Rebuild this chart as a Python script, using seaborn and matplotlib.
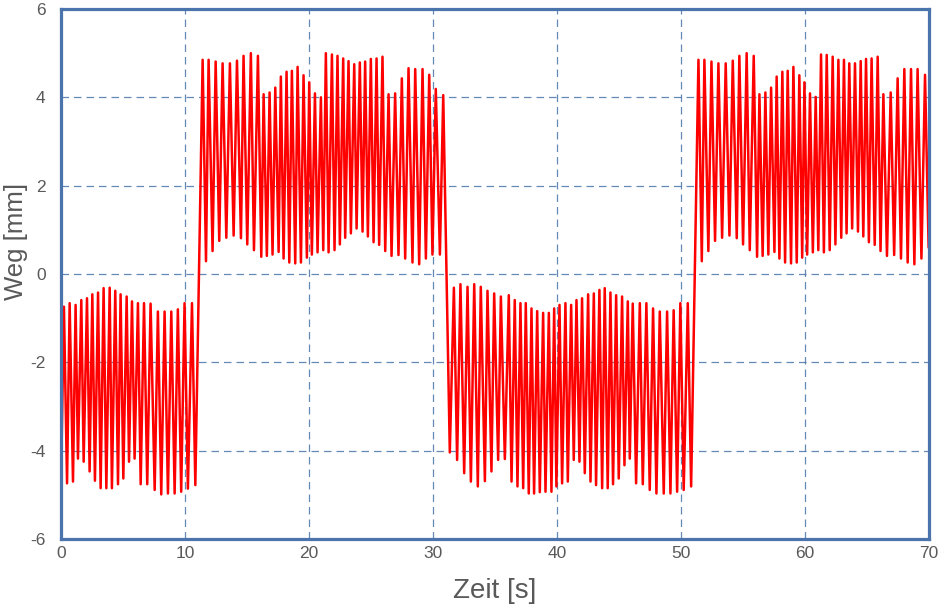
import numpy as np
import pandas as pd
import matplotlib
matplotlib.use("Agg")
import matplotlib.pyplot as plt
from matplotlib.ticker import MultipleLocator
import seaborn as sns

# Abschnitt 1: unten (0 .. 11 s)
zeit_1 = [0.00, 0.24, 0.49, 0.70, 0.97, 1.18, 1.37, 1.64, 1.83, 2.10, 2.31, 2.53,
          2.74, 2.99, 3.20, 3.44, 3.66, 3.93, 4.11, 4.38, 4.60, 4.81, 5.03, 5.30,
          5.49, 5.73, 5.94, 6.21, 6.43, 6.70, 6.96, 7.23, 7.56, 7.82, 8.09, 8.36,
          8.63, 8.90, 9.17, 9.43, 9.70, 9.97, 10.24, 10.57, 10.84]
weg_1 = [-4.78, -0.74, -4.74, -0.66, -4.70, -0.70, -4.18, -0.59, -4.25, -0.55, -4.47, -0.46,
         -4.68, -0.42, -4.85, -0.32, -4.85, -0.31, -4.85, -0.38, -4.76, -0.46, -4.63, -0.51,
         -4.25, -0.62, -4.18, -0.66, -4.76, -0.66, -4.76, -0.67, -4.89, -0.85, -4.99, -0.85,
         -4.97, -0.85, -4.97, -0.80, -4.93, -0.66, -4.86, -0.66, -4.78]

# Abschnitt 2: oben (11 .. 31 s)
zeit_2 = [11.43, 11.70, 11.91, 12.23, 12.48, 12.77, 13.04, 13.34, 13.63, 13.93, 14.20, 14.52,
          14.73, 15.03, 15.32, 15.57, 15.89, 16.16, 16.35, 16.61, 16.83, 17.07, 17.29, 17.56,
          17.74, 17.96, 18.20, 18.42, 18.63, 18.90, 19.09, 19.36, 19.57, 19.84, 20.03, 20.24,
          20.49, 20.70, 20.97, 21.16, 21.37, 21.59, 21.86, 22.07, 22.31, 22.50, 22.77, 22.93,
          23.20, 23.39, 23.66, 23.85, 24.11, 24.33, 24.54, 24.76, 25.00, 25.22, 25.46, 25.67,
          25.94, 26.16, 26.43, 26.67, 26.96, 27.23, 27.50, 27.77, 28.04, 28.36, 28.58, 28.90,
          29.17, 29.44, 29.71, 29.97, 30.24, 30.57, 30.84]
weg_2 = [4.85, 0.29, 4.85, 0.52, 4.81, 0.75, 4.77, 0.82, 4.77, 0.87, 4.83, 0.81,
         4.94, 0.67, 5.00, 0.54, 4.94, 0.39, 4.07, 0.41, 4.11, 0.44, 4.22, 0.50,
         4.47, 0.35, 4.58, 0.26, 4.60, 0.24, 4.69, 0.26, 4.50, 0.37, 4.34, 0.44,
         4.09, 0.49, 4.00, 0.54, 5.00, 0.49, 4.97, 0.54, 4.94, 0.67, 4.88, 0.82,
         4.82, 0.92, 4.75, 1.03, 4.79, 0.96, 4.81, 0.85, 4.87, 0.72, 4.88, 0.66,
         4.92, 0.52, 4.07, 0.41, 4.09, 0.43, 4.43, 0.35, 4.66, 0.26, 4.64, 0.22,
         4.64, 0.35, 4.51, 0.44, 4.19, 0.44, 4.05]

# Abschnitt 3: unten (31 .. 51 s)
zeit_3 = [31.37, 31.70, 31.96, 32.23, 32.53, 32.80, 33.07, 33.34, 33.63, 33.87, 34.20, 34.41,
          34.73, 34.95, 35.27, 35.49, 35.81, 36.13, 36.35, 36.61, 36.83, 37.07, 37.29, 37.50,
          37.74, 37.96, 38.17, 38.42, 38.63, 38.90, 39.09, 39.36, 39.57, 39.79, 39.97, 40.22,
          40.43, 40.70, 40.89, 41.16, 41.37, 41.59, 41.83, 42.04, 42.26, 42.53, 42.72, 42.99,
          43.17, 43.44, 43.66, 43.87, 44.11, 44.33, 44.54, 44.79, 45.00, 45.27, 45.46, 45.73,
          45.89, 46.13, 46.40, 46.70, 46.94, 47.23, 47.50, 47.77, 48.04, 48.31, 48.63, 48.90,
          49.17, 49.43, 49.71, 49.97, 50.24, 50.57, 50.84]
weg_3 = [-4.04, -0.31, -4.21, -0.23, -4.51, -0.29, -4.70, -0.23, -4.81, -0.29, -4.69, -0.38,
         -4.47, -0.44, -4.21, -0.51, -4.19, -0.48, -4.70, -0.59, -4.81, -0.66, -4.85, -0.66,
         -4.97, -0.78, -4.97, -0.84, -4.94, -0.88, -4.93, -0.88, -4.93, -0.78, -4.81, -0.70,
         -4.74, -0.66, -4.70, -0.70, -4.21, -0.59, -4.25, -0.55, -4.51, -0.46, -4.70, -0.44,
         -4.78, -0.36, -4.85, -0.32, -4.85, -0.42, -4.76, -0.48, -4.63, -0.51, -4.33, -0.62,
         -4.18, -0.67, -4.74, -0.66, -4.76, -0.66, -4.89, -0.78, -4.97, -0.85, -4.97, -0.85,
         -4.97, -0.82, -4.93, -0.66, -4.89, -0.66, -4.81]

# Abschnitt 4: oben (51 .. 70 s)
zeit_4 = [51.43, 51.70, 51.91, 52.23, 52.48, 52.77, 53.04, 53.34, 53.63, 53.93, 54.20, 54.52,
          54.73, 55.03, 55.32, 55.57, 55.89, 56.16, 56.35, 56.61, 56.83, 57.07, 57.29, 57.56,
          57.74, 57.96, 58.20, 58.42, 58.63, 58.90, 59.09, 59.36, 59.57, 59.80, 59.98, 60.20,
          60.43, 60.66, 60.89, 61.10, 61.32, 61.55, 61.78, 62.02, 62.26, 62.48, 62.72, 62.95,
          63.17, 63.38, 63.60, 63.83, 64.06, 64.30, 64.52, 64.73, 64.95, 65.18, 65.40, 65.65,
          65.89, 66.12, 66.35, 66.64, 66.94, 67.22, 67.50, 67.77, 68.04, 68.31, 68.58, 68.85,
          69.11, 69.42, 69.71, 70.00]
weg_4 = [4.85, 0.29, 4.85, 0.52, 4.81, 0.75, 4.77, 0.82, 4.77, 0.87, 4.83, 0.81,
         4.94, 0.67, 5.00, 0.54, 4.94, 0.39, 4.07, 0.41, 4.11, 0.44, 4.22, 0.50,
         4.47, 0.35, 4.58, 0.26, 4.60, 0.24, 4.69, 0.26, 4.50, 0.37, 4.34, 0.44,
         4.09, 0.49, 4.01, 0.54, 4.97, 0.49, 4.96, 0.54, 4.92, 0.67, 4.85, 0.82,
         4.85, 0.92, 4.77, 1.03, 4.77, 0.96, 4.82, 0.85, 4.87, 0.72, 4.88, 0.66,
         4.92, 0.52, 4.07, 0.41, 4.11, 0.43, 4.43, 0.35, 4.64, 0.26, 4.64, 0.22,
         4.64, 0.35, 4.51, 0.60]

# --- Zusammenfügen ---
df = pd.DataFrame({
    "Zeit": zeit_1 + zeit_2 + zeit_3 + zeit_4,
    "Weg": weg_1 + weg_2 + weg_3 + weg_4,
})

blau = "#4a74ab"
grau = "#595959"

sns.set_style("white")
plt.rcParams["font.family"] = ["Liberation Sans", "DejaVu Sans"]
plt.rcParams["axes.unicode_minus"] = False

fig = plt.figure(figsize=(9.38, 6.08), dpi=100)
ax = fig.add_axes([0.065, 0.1135, 0.925, 0.8717])

sns.lineplot(data=df, x="Zeit", y="Weg", ax=ax, color="red", linewidth=1.8,
             estimator=None, sort=False, zorder=2)

ax.set_xlim(0, 70)
ax.set_ylim(-6, 6)
ax.xaxis.set_major_locator(MultipleLocator(10))
ax.xaxis.set_minor_locator(MultipleLocator(5))
ax.yaxis.set_major_locator(MultipleLocator(2))
ax.yaxis.set_minor_locator(MultipleLocator(1))

ax.set_axisbelow(True)
ax.grid(True, which="major", color=blau, linestyle=(0, (6, 4)), linewidth=0.9, alpha=0.85)

for s in ax.spines.values():
    s.set_visible(True)
    s.set_color(blau)
    s.set_linewidth(2.3)
    s.set_zorder(3)

ax.tick_params(which="major", direction="inout", length=16, width=2.2, color=blau,
               labelsize=12.5, labelcolor=grau)
ax.tick_params(which="minor", direction="inout", length=9.5, width=2.2, color=blau)
ax.tick_params(axis="x", which="major", pad=-3)
ax.tick_params(axis="y", which="major", pad=3)

ax.set_xlabel("Zeit [s]", fontsize=20, color=grau)
ax.set_ylabel("Weg [mm]", fontsize=18.5, color=grau)
ax.xaxis.set_label_coords(0.5, -0.074)
ax.yaxis.set_label_coords(-0.038, 0.562)

fig.savefig("out.png", dpi=100)
